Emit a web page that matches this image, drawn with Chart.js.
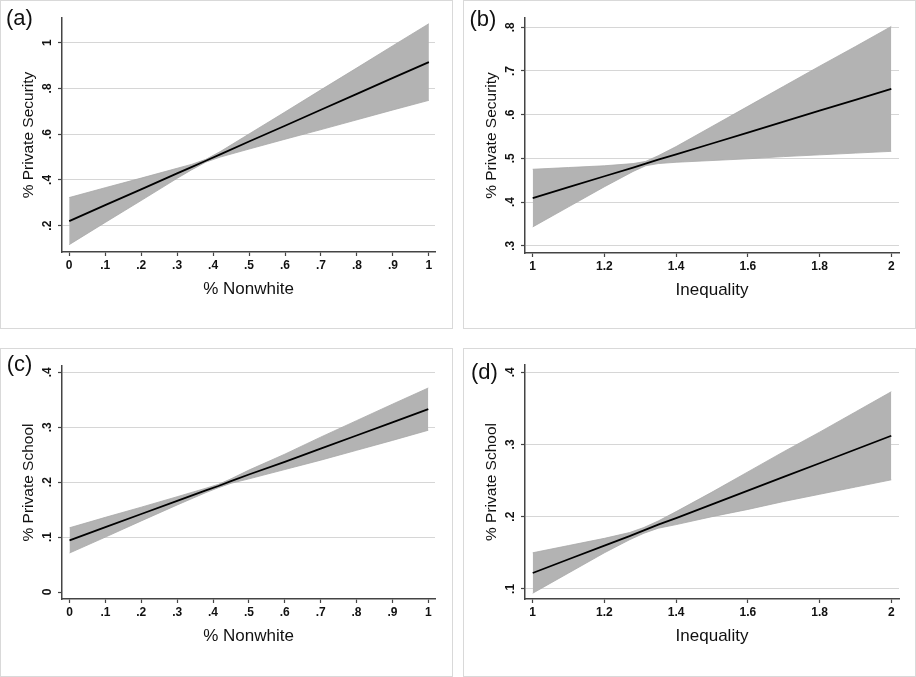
<!DOCTYPE html>
<html lang="en">
<head>
  <meta charset="UTF-8" />
  <title>Predicted private security and private school use</title>
  <script src="https://cdn.jsdelivr.net/npm/chart.js"></script>
  <style>
    body {
      margin: 0;
      background: #fff;
    }

    .panel {
      position: absolute;
      box-sizing: border-box;
      width: 453px;
      height: 329px;
      border: 1px solid #d9d9d9;
      background: #fff;
    }

    .panel canvas {
      display: block;
    }
  </style>
</head>
<body>
  <div class="panel" style="left:0;top:0"><canvas id="chartA" width="451" height="327"></canvas></div>
  <div class="panel" style="left:463px;top:0"><canvas id="chartB" width="451" height="327"></canvas></div>
  <div class="panel" style="left:0;top:348px"><canvas id="chartC" width="451" height="327"></canvas></div>
  <div class="panel" style="left:463px;top:348px"><canvas id="chartD" width="451" height="327"></canvas></div>

  <script>
    // (a) % Private Security by % Nonwhite
    const nonwhiteA = [0, .1, .2, .3, .34, .38, .42, .5, .6, .7, .8, .9, 1];
    const fitA   = [.220, .290, .359, .429, .456, .484, .512, .568, .637, .707, .776, .846, .915];
    const upperA = [.323, .366, .408, .451, .468, .490, .524, .601, .697, .794, .890, .987, 1.083];
    const lowerA = [.117, .214, .310, .407, .444, .478, .500, .535, .578, .620, .663, .706, .748];

    // (b) % Private Security by Inequality
    const inequalityB = [1, 1.1, 1.2, 1.28, 1.315, 1.35, 1.4, 1.5, 1.6, 1.7, 1.8, 1.9, 2];
    const fitB   = [.409, .434, .459, .479, .488, .497, .509, .534, .559, .584, .609, .634, .659];
    const upperB = [.475, .479, .483, .488, .493, .506, .527, .573, .619, .665, .711, .756, .802];
    const lowerB = [.343, .389, .435, .470, .483, .488, .491, .495, .499, .504, .508, .512, .516];

    // (c) % Private School by % Nonwhite
    const nonwhiteC = [0, .1, .2, .3, .38, .415, .45, .5, .6, .7, .8, .9, 1];
    const fitC   = [.094, .118, .142, .166, .185, .193, .202, .214, .237, .261, .285, .309, .333];
    const upperC = [.117, .136, .1545, .1735, .189, .196, .206, .222, .251, .282, .312, .342, .3715];
    const lowerC = [.071, .100, .1295, .1585, .181, .190, .198, .206, .223, .240, .258, .276, .2945];

    // (d) % Private School by Inequality
    const inequalityD = [1, 1.1, 1.2, 1.27, 1.31, 1.35, 1.4, 1.5, 1.6, 1.7, 1.8, 1.9, 2];
    const fitD   = [.122, .141, .160, .173, .181, .189, .198, .217, .236, .255, .274, .293, .312];
    const upperD = [.150, .160, .170, .178, .185, .194, .207, .234, .262, .290, .317, .345, .373];
    const lowerD = [.094, .122, .150, .168, .177, .184, .189, .200, .210, .221, .231, .241, .251];

    // tick values and their Stata-style labels
    const nonwhiteTicks = [0, .1, .2, .3, .4, .5, .6, .7, .8, .9, 1];
    const nonwhiteTickLabels = ["0", ".1", ".2", ".3", ".4", ".5", ".6", ".7", ".8", ".9", "1"];
    const inequalityTicks = [1, 1.2, 1.4, 1.6, 1.8, 2];
    const inequalityTickLabels = ["1", "1.2", "1.4", "1.6", "1.8", "2"];
    const securityTicksA = [.2, .4, .6, .8, 1];
    const securityTickLabelsA = [".2", ".4", ".6", ".8", "1"];
    const securityTicksB = [.3, .4, .5, .6, .7, .8];
    const securityTickLabelsB = [".3", ".4", ".5", ".6", ".7", ".8"];
    const schoolTicksC = [0, .1, .2, .3, .4];
    const schoolTickLabelsC = ["0", ".1", ".2", ".3", ".4"];
    const schoolTicksD = [.1, .2, .3, .4];
    const schoolTickLabelsD = [".1", ".2", ".3", ".4"];

    const FONT = '"Liberation Sans", Arial, Helvetica, sans-serif';
    const CANVAS_W = 451, CANVAS_H = 327;

    function pts(xs, ys) {
      return xs.map((x, i) => ({ x: x, y: ys[i] }));
    }

    function makePanel(id, p) {
      const textPlugin = {
        id: "stataText",
        afterDraw(chart) {
          const ctx = chart.ctx;
          const ca = chart.chartArea;
          const sx = chart.scales.x, sy = chart.scales.y;
          ctx.save();
          ctx.fillStyle = "#111";
          ctx.textAlign = "center";
          ctx.textBaseline = "middle";

          ctx.font = "bold 12px " + FONT;
          p.xTicks.forEach((v, i) => {
            ctx.fillText(p.xLabels[i], sx.getPixelForValue(v), ca.bottom + 14);
          });
          p.yTicks.forEach((v, i) => {
            ctx.save();
            ctx.translate(ca.left - 14, sy.getPixelForValue(v));
            ctx.rotate(-Math.PI / 2);
            ctx.fillText(p.yLabels[i], 0, 0);
            ctx.restore();
          });

          ctx.font = "17px " + FONT;
          ctx.fillText(p.xTitle, (ca.left + ca.right) / 2, ca.bottom + 37);

          ctx.save();
          ctx.font = "15.5px " + FONT;
          ctx.translate(28, (ca.top + ca.bottom) / 2);
          ctx.rotate(-Math.PI / 2);
          ctx.fillText(p.yTitle, 0, 0);
          ctx.restore();

          ctx.font = "22px " + FONT;
          ctx.textAlign = "left";
          ctx.fillText(p.label, p.labelX, p.labelY);
          ctx.restore();
        }
      };

      new Chart(document.getElementById(id), {
        type: "line",
        data: {
          datasets: [
            {
              data: pts(p.xs, p.fit),
              borderColor: "#000",
              borderWidth: 1.8,
              pointRadius: 0,
              fill: false
            },
            {
              data: pts(p.xs, p.lower),
              borderColor: "#a8a8a8",
              borderWidth: 0.8,
              pointRadius: 0,
              fill: false
            },
            {
              data: pts(p.xs, p.upper),
              borderColor: "#a8a8a8",
              borderWidth: 0.8,
              pointRadius: 0,
              backgroundColor: "#b3b3b3",
              fill: "-1"
            }
          ]
        },
        options: {
          responsive: false,
          animation: false,
          layout: { padding: { left: 0, top: p.top, right: CANVAS_W - p.right, bottom: 0 } },
          plugins: {
            legend: { display: false },
            tooltip: { enabled: false }
          },
          scales: {
            x: {
              type: "linear",
              min: p.xMin,
              max: p.xMax,
              afterBuildTicks: s => { s.ticks = p.xTicks.map(v => ({ value: v })); },
              afterFit: s => { s.height = CANVAS_H - p.bottom; },
              ticks: { display: false },
              grid: { drawOnChartArea: false, drawTicks: true, tickLength: 4, tickColor: "#444", tickWidth: 1.2 },
              border: { display: true, color: "#444", width: 1.5 }
            },
            y: {
              type: "linear",
              min: p.yMin,
              max: p.yMax,
              afterBuildTicks: s => { s.ticks = p.yTicks.map(v => ({ value: v })); },
              afterFit: s => { s.width = p.left; },
              ticks: { display: false },
              grid: {
                color: c => (c.tick && c.tick.value === p.noGrid) ? "rgba(0,0,0,0)" : "#d6d6d6",
                lineWidth: 1,
                drawTicks: true,
                tickLength: 4,
                tickColor: "#444",
                tickWidth: 1.2
              },
              border: { display: true, color: "#444", width: 1.5 }
            }
          }
        },
        plugins: [textPlugin]
      });
    }

    makePanel("chartA", {
      label: "(a)", labelX: 5, labelY: 18,
      xs: nonwhiteA, fit: fitA, upper: upperA, lower: lowerA,
      xTicks: nonwhiteTicks, xLabels: nonwhiteTickLabels,
      yTicks: securityTicksA, yLabels: securityTickLabelsA,
      xTitle: "% Nonwhite", yTitle: "% Private Security",
      xMin: -0.02, xMax: 1.017, yMin: 0.085, yMax: 1.108,
      left: 61, top: 17, right: 434, bottom: 251
    });

    makePanel("chartB", {
      label: "(b)", labelX: 5.5, labelY: 19,
      xs: inequalityB, fit: fitB, upper: upperB, lower: lowerB,
      xTicks: inequalityTicks, xLabels: inequalityTickLabels,
      yTicks: securityTicksB, yLabels: securityTickLabelsB,
      xTitle: "Inequality", yTitle: "% Private Security",
      xMin: 0.9785, xMax: 2.0215, yMin: 0.2833, yMax: 0.8213,
      left: 61, top: 17, right: 435, bottom: 252
    });

    makePanel("chartC", {
      label: "(c)", labelX: 5.7, labelY: 16,
      xs: nonwhiteC, fit: fitC, upper: upperC, lower: lowerC,
      xTicks: nonwhiteTicks, xLabels: nonwhiteTickLabels,
      yTicks: schoolTicksC, yLabels: schoolTickLabelsC,
      xTitle: "% Nonwhite", yTitle: "% Private School",
      xMin: -0.021, xMax: 1.0187, yMin: -0.0127, yMax: 0.4115,
      left: 61, top: 17, right: 434, bottom: 250, noGrid: 0
    });

    makePanel("chartD", {
      label: "(d)", labelX: 7, labelY: 24,
      xs: inequalityD, fit: fitD, upper: upperD, lower: lowerD,
      xTicks: inequalityTicks, xLabels: inequalityTickLabels,
      yTicks: schoolTicksD, yLabels: schoolTickLabelsD,
      xTitle: "Inequality", yTitle: "% Private School",
      xMin: 0.9785, xMax: 2.0215, yMin: 0.086, yMax: 0.410,
      left: 61, top: 16, right: 435, bottom: 250
    });
  </script>
</body>
</html>
